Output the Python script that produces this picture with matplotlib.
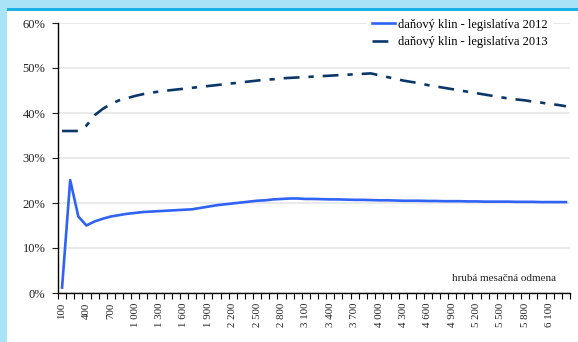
import matplotlib.pyplot as plt
from matplotlib.patches import Rectangle
from matplotlib.ticker import FixedLocator, FuncFormatter
import numpy as np

# gross monthly wage categories, 100 .. 6300
wages = list(range(100, 6400, 100))

klin_2012 = [1.2, 25.1, 17.0, 15.0, 15.9, 16.5, 17.0, 17.3, 17.6, 17.8,
             18.0, 18.1, 18.2, 18.3, 18.4, 18.5, 18.6, 18.9, 19.2, 19.5,
             19.7, 19.9, 20.1, 20.3, 20.5, 20.6, 20.8, 20.9, 21.0, 21.0,
             20.9, 20.9, 20.85, 20.8, 20.8, 20.75, 20.7, 20.7, 20.65, 20.6,
             20.6, 20.55, 20.5, 20.5, 20.5, 20.45, 20.45, 20.4, 20.4, 20.4,
             20.35, 20.35, 20.3, 20.3, 20.3, 20.3, 20.25, 20.25, 20.25, 20.2,
             20.2, 20.2, 20.2]

klin_2013 = [36.0, 36.0, 36.0, 37.2, 39.5, 40.9, 42.0, 42.8, 43.3, 43.8,
             44.2, 44.5, 44.8, 45.0, 45.2, 45.4, 45.6, 45.8, 46.0, 46.2,
             46.4, 46.6, 46.8, 47.0, 47.2, 47.4, 47.5, 47.7, 47.8, 47.9,
             48.0, 48.1, 48.2, 48.3, 48.4, 48.5, 48.6, 48.7, 48.8, 48.4,
             48.0, 47.6, 47.2, 46.9, 46.6, 46.2, 45.9, 45.6, 45.3, 45.0,
             44.7, 44.4, 44.1, 43.8, 43.5, 43.2, 43.0, 42.8, 42.5, 42.3,
             42.0, 41.8, 41.5]

label_2012 = 'daňový klin - legislatíva 2012'
label_2013 = 'daňový klin - legislatíva 2013'
xlabel = 'hrubá mesačná odmena'

plt.rcParams['font.family'] = ['Liberation Serif', 'DejaVu Serif']

fig = plt.figure(figsize=(5.78, 3.42), dpi=100)
fig.patch.set_facecolor('#a8e4f7')

# white panel with the blue strip on top
fig.patches.append(Rectangle((7/578, 0), 1, (342-11)/342, transform=fig.transFigure,
                             facecolor='white', edgecolor='none', zorder=-5))
fig.patches.append(Rectangle((7/578, (342-11)/342), 1, 3/342, transform=fig.transFigure,
                             facecolor='#1bb1e6', edgecolor='none', zorder=-5))

ax = fig.add_axes([58/578, 49/342, 512/578, 270/342])
ax.set_zorder(2)
ax.set_facecolor('white')

x = np.arange(len(wages))
ax.plot(x, klin_2012, color='#2f62f5', lw=1.9, label=label_2012, zorder=3)
ax.plot(x, klin_2013, color='#0b3768', lw=1.9, label=label_2013, zorder=3,
        dashes=(6, 3.4, 2, 3.4))

ax.set_xlim(-0.5, len(wages) - 0.5)
ax.set_ylim(0, 60)

ax.set_yticks(range(0, 61, 10))
ax.yaxis.set_major_formatter(FuncFormatter(lambda v, p: '%d%%' % v))
ax.yaxis.grid(True, color='#e6e6e6', lw=1.2)
ax.set_axisbelow(True)

lab_idx = list(range(0, len(wages), 3))
ax.xaxis.set_major_locator(FixedLocator(lab_idx))
ax.set_xticklabels([('{:,}'.format(wages[i])).replace(',', ' ') for i in lab_idx],
                   rotation=90)
ax.xaxis.set_minor_locator(FixedLocator(np.arange(-0.5, len(wages), 1)))
ax.tick_params(axis='x', which='major', length=0, pad=7, labelsize=7.8, colors='#222222')
ax.tick_params(axis='x', which='minor', length=4, width=0.8, direction='out')
ax.tick_params(axis='y', length=4, width=0.8, labelsize=9, colors='#222222', pad=5)

for s in ['top', 'right']:
    ax.spines[s].set_visible(False)
for s in ['left', 'bottom']:
    ax.spines[s].set_linewidth(1.0)
    ax.spines[s].set_color('black')

leg = ax.legend(loc='upper right', bbox_to_anchor=(0.967, 1.035), fontsize=9,
                frameon=True, fancybox=False, edgecolor='none', framealpha=1,
                handlelength=1.85, handletextpad=0.3, labelspacing=0.45, borderaxespad=0)
leg.set_zorder(5)

ax.text(0.973, 0.052, xlabel, transform=ax.transAxes, ha='right', va='center',
        fontsize=8, color='#222222')

fig.savefig('out.png', dpi=100, facecolor=fig.get_facecolor())
